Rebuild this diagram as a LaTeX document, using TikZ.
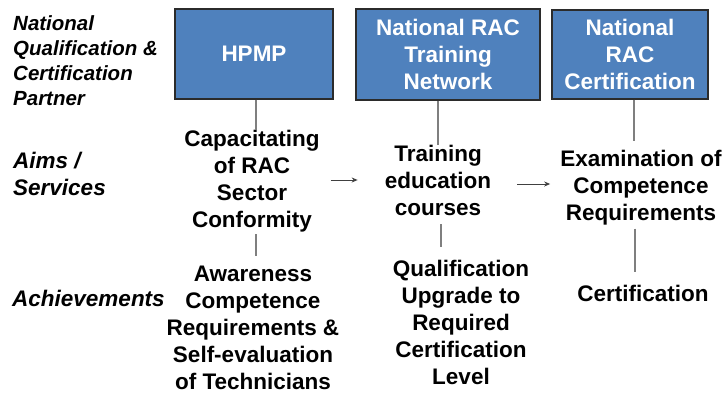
\documentclass[tikz,border=0pt]{standalone}
\usepackage{fontspec}
\setmainfont{Liberation Sans}
\usetikzlibrary{arrows.meta}
\definecolor{boxblue}{HTML}{4F81BD}
\definecolor{boxedge}{HTML}{2B2B2B}
\definecolor{conngray}{HTML}{7F7F7F}
\begin{document}
\begin{tikzpicture}[x=1pt,y=-1pt,
  partner/.style={draw=boxedge,line width=1.3pt,fill=boxblue,text=white,
    font=\fontsize{22.5}{27}\selectfont\bfseries,align=center,inner sep=0pt},
  item/.style={font=\fontsize{22.5}{27}\selectfont\bfseries,align=center,inner sep=0pt},
  rowlabel/.style={font=\fontsize{22.5}{27}\selectfont\bfseries\itshape,align=left,inner sep=0pt,anchor=west},
  conn/.style={draw=conngray,line width=1.3pt},
  arr/.style={draw=black!75,line width=1pt,-{Stealth[length=6pt,width=5pt]}}]
\useasboundingbox (0,0) rectangle (727,394);
% row labels
\node[rowlabel,font=\fontsize{20.5}{25}\selectfont\bfseries\itshape] (lblA) at (13,61) {National\\Qualification \&\\Certification\\Partner};
\node[rowlabel] (lblB) at (13,174) {Aims /\\Services};
\node[rowlabel] (lblC) at (12,298) {Achievements};
% partner boxes
\node[partner,minimum width=158pt,minimum height=90pt] (hpmp) at (254,54) {HPMP};
\node[partner,minimum width=184pt,minimum height=91pt] (net) at (448,54.5) {National RAC\\Training\\Network};
\node[partner,minimum width=156pt,minimum height=89pt] (cert) at (630,54.5) {National\\RAC\\Certification};
% aims
\node[item] (cap) at (252,181) {Capacitating\\of RAC\\Sector\\Conformity};
\node[item] (train) at (438,180) {Training\\education\\courses};
\node[item] (exam) at (641,188) {Examination of\\Competence\\Requirements};
% achievements
\node[item] (aware) at (253,328) {Awareness\\Competence\\Requirements \&\\Self-evaluation\\of Technicians};
\node[item] (qual) at (461,322) {Qualification\\Upgrade to\\Required\\Certification\\Level};
\node[item] (certif) at (643,293) {Certification};
% connectors
\draw[conn] (hpmp.south -| 256,0) -- (cap.north -| 256,0);
\draw[conn] (net.south -| 438,0) -- (train.north -| 438,0);
\draw[conn,shorten >=9pt] (cert.south -| 634,0) -- (exam.north -| 634,0);
\draw[conn,shorten <=2pt,shorten >=10pt] (cap.south -| 256,0) -- (aware.north -| 256,0);
\draw[conn,shorten <=9pt,shorten >=13pt] (train.south -| 441,0) -- (qual.north -| 441,0);
\draw[conn,shorten <=3pt,shorten >=13pt] (exam.south -| 635,0) -- (certif.north -| 635,0);
% arrows
\draw[arr] ([xshift=11pt]cap.east |- 0,180) -- ([xshift=-27pt]train.west |- 0,180);
\draw[arr] ([xshift=26pt]train.east |- 0,184) -- ([xshift=-10pt]exam.west |- 0,184);
\end{tikzpicture}
\end{document}
